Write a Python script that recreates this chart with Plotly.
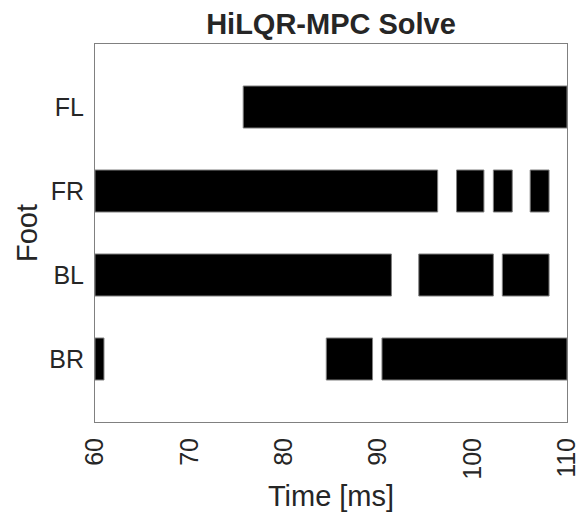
import plotly.graph_objects as go

feet = ["BR", "BL", "FR", "FL"]
seg_start = {
    "FL": [75.7],
    "FR": [60.0, 98.3, 102.2, 106.1],
    "BL": [60.0, 94.3, 103.15],
    "BR": [60.0, 84.5, 90.4],
}
seg_end = {
    "FL": [110.0],
    "FR": [96.3, 101.2, 104.2, 108.1],
    "BL": [91.4, 102.2, 108.1],
    "BR": [60.95, 89.4, 110.0],
}
x_ticks = [60, 70, 80, 90, 100, 110]

TXT = "#262626"
FONT = "Liberation Sans, Arial, sans-serif"

fig = go.Figure()
for i, f in enumerate(feet):
    starts = seg_start[f]
    ends = seg_end[f]
    fig.add_trace(go.Bar(
        y=[i + 1] * len(starts),
        x=[e - s for s, e in zip(starts, ends)],
        base=starts,
        orientation="h",
        width=0.5,
        marker=dict(color="black", line=dict(color="#7f7f7f", width=1)),
        showlegend=False,
        hoverinfo="skip",
    ))

fig.update_layout(
    width=580, height=512,
    margin=dict(l=95, r=13, t=44, b=90, pad=0, autoexpand=False),
    paper_bgcolor="white", plot_bgcolor="white",
    barmode="overlay",
    font=dict(family=FONT, color=TXT, size=25),
    title=dict(text="<b>HiLQR-MPC Solve</b>", x=0.5, xref="paper", xanchor="center",
               y=1 - 24 / 512, yref="container", yanchor="middle",
               font=dict(size=29, color=TXT, family=FONT)),
)
fig.update_xaxes(
    range=[60, 110], tickvals=x_ticks, ticktext=[str(v) for v in x_ticks],
    tickangle=-90, ticks="", showgrid=False, zeroline=False,
    showline=True, linecolor="#808080", linewidth=1, mirror=True,
    tickfont=dict(size=25, color=TXT), ticklabeloverflow="allow",
    ticklabelstandoff=5, automargin=False,
    title=dict(text="Time [ms]", font=dict(size=29, color=TXT), standoff=9),
)
fig.update_yaxes(
    range=[0.25, 4.75], tickvals=[1, 2, 3, 4], ticktext=feet,
    ticks="", showgrid=False, zeroline=False,
    showline=True, linecolor="#808080", linewidth=1, mirror=True,
    tickfont=dict(size=25, color=TXT), ticklabelstandoff=5, automargin=False,
    title=dict(text="Foot", font=dict(size=29, color=TXT), standoff=3),
)

fig.write_html("out.html")
